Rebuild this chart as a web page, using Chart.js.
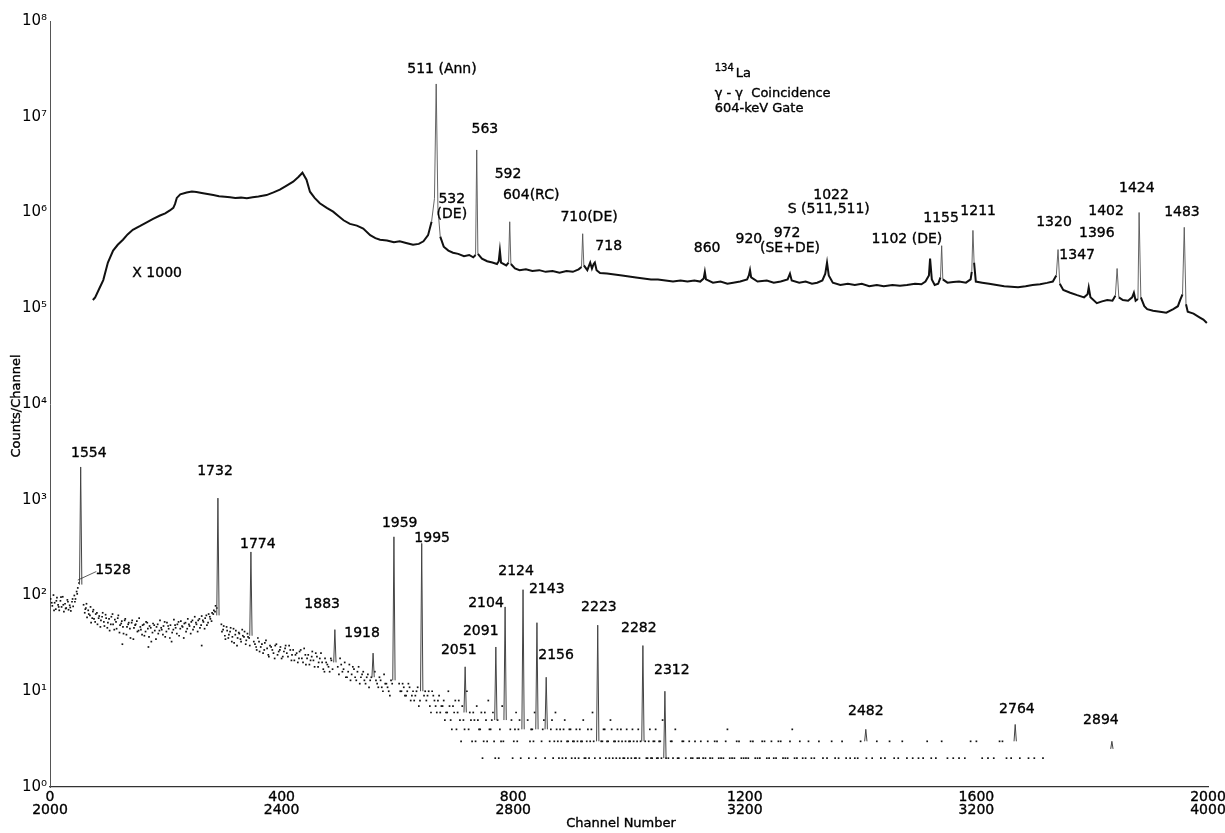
<!DOCTYPE html>
<html>
<head>
<meta charset="utf-8">
<title>134La gamma-gamma coincidence, 604-keV gate</title>
<script src="https://cdn.jsdelivr.net/npm/chart.js@4/dist/chart.umd.min.js"></script>
<style>
  html, body { margin: 0; padding: 0; background: #fff; }
  canvas { display: block; }
</style>
</head>
<body>
<canvas id="spectrum" width="1225" height="833"></canvas>
<script>
// ---- Upper spectrum, channels 0-2000, counts shown x1000: [channel, counts] ----
const upperSpectrum = [
  [74, 1.22e5], [78, 1.3e5], [85, 1.6e5], [92, 1.97e5], [100, 3.0e5], [109, 4.0e5], [117, 4.6e5], [126, 5.2e5],
  [134, 5.9e5], [143, 6.6e5], [155, 7.2e5], [167, 7.9e5], [178, 8.6e5], [190, 9.3e5], [199, 9.8e5], [207, 1.05e6],
  [213, 1.12e6], [216, 1.23e6], [219, 1.42e6], [225, 1.55e6], [236, 1.62e6], [245, 1.66e6], [253, 1.64e6], [262, 1.6e6],
  [272, 1.56e6], [282, 1.52e6], [292, 1.48e6], [302, 1.46e6], [311, 1.44e6], [320, 1.42e6], [330, 1.43e6], [340, 1.41e6],
  [350, 1.44e6], [360, 1.47e6], [374, 1.52e6], [386, 1.62e6], [397, 1.73e6], [408, 1.9e6], [420, 2.1e6], [429, 2.35e6],
  [436, 2.6e6], [443, 2.2e6], [449, 1.65e6], [457, 1.42e6], [466, 1.25e6], [478, 1.12e6], [489, 1.02e6], [498, 9.2e5],
  [507, 8.3e5], [518, 7.6e5], [530, 7.3e5], [541, 6.8e5], [553, 5.8e5], [562, 5.4e5], [570, 5.2e5], [582, 5.1e5],
  [594, 4.9e5], [604, 5.0e5], [615, 4.8e5], [627, 4.6e5], [637, 4.7e5], [645, 5.0e5], [653, 5.8e5], [659, 8.0e5],
  [664, 1.4e6], [667, 2.2e7], [670, 1.1e6], [674, 5.6e5], [680, 4.4e5], [688, 4.0e5], [696, 3.8e5], [705, 3.7e5],
  [715, 3.5e5], [724, 3.6e5], [731, 3.4e5], [735, 3.6e5], [737, 4.5e6], [739, 3.7e5], [746, 3.3e5], [755, 3.1e5],
  [764, 3.0e5], [772, 2.9e5], [775, 3.1e5], [777, 4.0e5], [779, 3.0e5], [788, 2.8e5], [792, 3.0e5], [794, 8.0e5],
  [796, 2.9e5], [803, 2.6e5], [811, 2.5e5], [822, 2.55e5], [833, 2.45e5], [845, 2.5e5], [856, 2.4e5], [868, 2.45e5],
  [880, 2.35e5], [892, 2.45e5], [903, 2.4e5], [913, 2.55e5], [918, 2.7e5], [920, 6.0e5], [922, 2.8e5], [928, 2.5e5],
  [933, 3.0e5], [936, 2.6e5], [939, 2.9e5], [941, 3.0e5], [944, 2.5e5], [950, 2.33e5], [962, 2.3e5], [975, 2.25e5],
  [988, 2.2e5], [1000, 2.15e5], [1012, 2.1e5], [1025, 2.05e5], [1038, 2.0e5], [1050, 2.0e5], [1063, 1.95e5], [1076, 1.9e5],
  [1089, 1.95e5], [1101, 1.9e5], [1113, 1.95e5], [1123, 1.9e5], [1129, 2.05e5], [1131, 2.4e5], [1133, 2.0e5], [1145, 1.85e5],
  [1158, 1.9e5], [1170, 1.8e5], [1180, 1.85e5], [1192, 1.9e5], [1204, 2.0e5], [1207, 2.2e5], [1209, 2.5e5], [1211, 2.1e5],
  [1222, 1.9e5], [1238, 1.95e5], [1250, 1.85e5], [1262, 1.9e5], [1274, 2.0e5], [1278, 2.3e5], [1281, 1.95e5], [1294, 1.85e5],
  [1305, 1.9e5], [1316, 1.8e5], [1325, 1.85e5], [1334, 1.95e5], [1339, 2.3e5], [1342, 3.0e5], [1345, 2.2e5], [1352, 1.85e5],
  [1365, 1.75e5], [1378, 1.8e5], [1390, 1.75e5], [1402, 1.8e5], [1415, 1.7e5], [1428, 1.75e5], [1440, 1.7e5], [1455, 1.75e5],
  [1468, 1.72e5], [1480, 1.75e5], [1494, 1.8e5], [1505, 1.78e5], [1512, 1.9e5], [1518, 2.2e5], [1520, 3.3e5], [1523, 2.0e5],
  [1528, 1.75e5], [1534, 1.8e5], [1538, 2.1e5], [1540, 4.5e5], [1542, 2.0e5], [1550, 1.85e5], [1560, 1.88e5], [1570, 1.9e5],
  [1582, 1.85e5], [1590, 2.0e5], [1592, 2.4e5], [1594, 6.5e5], [1596, 3.0e5], [1599, 1.9e5], [1610, 1.85e5], [1622, 1.8e5],
  [1635, 1.75e5], [1648, 1.7e5], [1660, 1.68e5], [1672, 1.66e5], [1685, 1.7e5], [1697, 1.75e5], [1710, 1.78e5], [1722, 1.84e5],
  [1732, 1.9e5], [1738, 2.2e5], [1741, 4.1e5], [1744, 1.8e5], [1750, 1.55e5], [1762, 1.45e5], [1774, 1.37e5], [1786, 1.3e5],
  [1792, 1.4e5], [1794, 1.65e5], [1797, 1.3e5], [1808, 1.13e5], [1817, 1.18e5], [1826, 1.22e5], [1835, 1.2e5], [1840, 1.35e5],
  [1843, 2.6e5], [1846, 1.3e5], [1853, 1.22e5], [1862, 1.2e5], [1869, 1.3e5], [1872, 1.45e5], [1875, 1.2e5], [1879, 1.25e5],
  [1881, 1.0e6], [1884, 1.3e5], [1890, 1.05e5], [1895, 9.8e4], [1905, 9.4e4], [1917, 9.2e4], [1928, 9.0e4], [1940, 9.8e4],
  [1948, 1.05e5], [1952, 1.22e5], [1956, 1.4e5], [1959, 7.0e5], [1962, 1.1e5], [1965, 9.2e4], [1975, 8.8e4], [1986, 8.0e4],
  [1992, 7.6e4], [1998, 7.0e4]
];

// ---- Lower spectrum, channels 2000-4000: photopeaks ----
const lowerPeakChannels = [53, 290, 347, 492, 558, 594, 642, 717, 770, 786, 817, 841, 857, 946, 1024, 1062, 1409, 1667, 1834];
const lowerPeakTops     = [2200, 1040, 285, 44, 25, 410, 350, 18, 29, 76, 115, 52, 14, 49, 30, 10, 4, 4.5, 3];
const lowerPeakBases    = [130, 62, 38, 20, 14, 13, 10, 6, 5, 5, 4, 4, 4, 3, 3, 2, 3, 3, 2.5];

// ---- Lower spectrum: background counts per channel, [channel, counts] ----
const lowerBackground = [
  [1, 92], [3, 84], [4, 78], [6, 101], [7, 70], [8, 84], [10, 72], [11, 88], [12, 95], [14, 80], [15, 76], [16, 70],
  [18, 88], [19, 96], [20, 76], [22, 97], [23, 80], [24, 68], [26, 82], [27, 73], [28, 74], [30, 90], [31, 86], [32, 71],
  [34, 79], [35, 75], [36, 69], [38, 86], [39, 92], [40, 77], [42, 100], [43, 86], [44, 92], [46, 110], [47, 104], [48, 120], [50, 135],
  [58, 80], [60, 66], [61, 72], [62, 74], [63, 82], [64, 59], [66, 70], [67, 64], [69, 62], [70, 76], [71, 52], [73, 58],
  [74, 68], [75, 71], [76, 57], [78, 53], [79, 64], [81, 66], [82, 50], [84, 58], [85, 61], [87, 47], [88, 55], [90, 60],
  [91, 66], [93, 53], [94, 48], [96, 63], [97, 58], [99, 46], [100, 52], [102, 57], [103, 43], [105, 50], [106, 60], [108, 64],
  [109, 50], [111, 44], [112, 56], [114, 53], [115, 45], [117, 58], [118, 62], [120, 41], [121, 49], [123, 51], [124, 54], [125, 31],
  [126, 47], [127, 40], [129, 55], [130, 57], [132, 39], [133, 47], [135, 50], [136, 52], [138, 45], [139, 36], [141, 52], [142, 55],
  [144, 35], [145, 46], [147, 49], [148, 50], [150, 54], [151, 42], [153, 43], [154, 58], [156, 47], [157, 44], [159, 39], [160, 49],
  [162, 50], [163, 38], [165, 42], [166, 53], [168, 52], [169, 45], [170, 29], [171, 37], [172, 48], [174, 46], [175, 33], [177, 41],
  [178, 51], [180, 49], [181, 43], [183, 35], [184, 47], [186, 50], [187, 40], [189, 43], [190, 55], [192, 46], [193, 44], [195, 39],
  [196, 48], [198, 53], [199, 37], [201, 42], [202, 52], [204, 48], [205, 45], [207, 36], [208, 49], [210, 33], [211, 41], [213, 44],
  [214, 56], [216, 49], [217, 46], [219, 40], [220, 50], [222, 53], [223, 38], [225, 45], [226, 54], [228, 48], [229, 47], [231, 36],
  [232, 51], [234, 52], [235, 42], [237, 45], [238, 57], [240, 50], [241, 48], [243, 40], [244, 53], [246, 55], [247, 44], [249, 47],
  [250, 60], [252, 52], [253, 50], [255, 42], [256, 55], [258, 57], [259, 46], [261, 49], [262, 61], [262, 30], [264, 55], [265, 53],
  [267, 45], [268, 58], [270, 62], [271, 49], [273, 52], [274, 64], [276, 60], [277, 57], [279, 54], [280, 66], [282, 64], [283, 70],
  [285, 68], [286, 78], [288, 74],
  [296, 50], [297, 42], [299, 44], [300, 48], [302, 38], [303, 35], [305, 47], [306, 43], [308, 36], [309, 39], [311, 42], [312, 46],
  [314, 33], [315, 37], [317, 45], [318, 32], [320, 39], [321, 43], [323, 30], [324, 36], [326, 41], [327, 40], [329, 35], [330, 33],
  [332, 44], [333, 38], [335, 37], [336, 42], [338, 31], [339, 34], [341, 40], [342, 37], [344, 36], [345, 30],
  [352, 33], [354, 31], [356, 29], [357, 27], [359, 36], [361, 33], [362, 26], [364, 29], [366, 31], [368, 25], [370, 27], [371, 32],
  [373, 34], [375, 28], [377, 24], [378, 23], [380, 30], [382, 29], [384, 27], [386, 25], [388, 22], [389, 30], [391, 31], [393, 24],
  [395, 26], [397, 27], [398, 29], [400, 22], [402, 23], [404, 26], [406, 28], [407, 30], [409, 25], [411, 23], [413, 30], [415, 27],
  [417, 21], [418, 24], [420, 27], [422, 21], [424, 24], [426, 25], [428, 20], [430, 22], [431, 26], [433, 27], [435, 22], [437, 20],
  [439, 28], [441, 24], [442, 19], [444, 22], [446, 24], [448, 19], [450, 21], [452, 23], [453, 26], [455, 21], [457, 18], [459, 25],
  [461, 23], [463, 18], [464, 20], [466, 22], [468, 25], [470, 20], [472, 17], [474, 16], [475, 22], [477, 20], [479, 19], [481, 18],
  [483, 16], [485, 22], [486, 21], [488, 17],
  [497, 18], [499, 15], [501, 22], [503, 19], [505, 16], [507, 17], [509, 20], [511, 14], [513, 14], [515, 16], [517, 19], [519, 13],
  [521, 15], [523, 18], [525, 17], [527, 14], [529, 13], [531, 16], [533, 18], [535, 12], [537, 14], [539, 15], [541, 16], [543, 13],
  [545, 12], [547, 14], [549, 15], [551, 11], [553, 13], [555, 14], [561, 16], [563, 13], [565, 12], [567, 11], [569, 14], [571, 13],
  [573, 11], [575, 10], [577, 15], [579, 12], [581, 12], [583, 11], [585, 10], [587, 9], [589, 13], [591, 12],
  [603, 12], [605, 10], [607, 10], [609, 12], [611, 11], [613, 9], [615, 9], [617, 10], [619, 12], [621, 11], [623, 8], [625, 9],
  [627, 10], [629, 8], [631, 9], [633, 10], [635, 11], [637, 7], [639, 8], [646, 9], [648, 10], [650, 8], [652, 9], [654, 10],
  [656, 7], [658, 6], [660, 10], [662, 9], [664, 8], [666, 7], [668, 6], [670, 8], [672, 9], [674, 6], [676, 7], [678, 7],
  [680, 8], [682, 5], [684, 6], [686, 6], [688, 10], [690, 7], [692, 5], [694, 4], [696, 7], [698, 6], [700, 8],
  [702, 4], [704, 6], [706, 8], [708, 5], [710, 3], [712, 7], [714, 5], [716, 4], [720, 10], [723, 4], [725, 6], [727, 5],
  [729, 3], [731, 6], [733, 5], [735, 3], [737, 7], [739, 5], [741, 4], [743, 4], [745, 6], [747, 2], [749, 3], [751, 6],
  [753, 5], [755, 3], [757, 8], [759, 4], [761, 4], [763, 5], [765, 6], [767, 3], [769, 2], [773, 5], [775, 2], [777, 4],
  [779, 3], [781, 7], [783, 3], [795, 4], [797, 5], [799, 2], [801, 3], [803, 4], [805, 6], [807, 3], [809, 4], [811, 5],
  [813, 2], [825, 5], [827, 2], [829, 3], [831, 4], [833, 4], [835, 3], [837, 6], [839, 2], [849, 3], [851, 4], [853, 5],
  [855, 2], [863, 3], [865, 4], [867, 5], [869, 2], [871, 3], [873, 6], [875, 4], [877, 3], [879, 2], [881, 4], [883, 3],
  [885, 2], [887, 4], [889, 5], [891, 2], [893, 3], [895, 3], [897, 4], [899, 4], [901, 2], [903, 3], [905, 3], [907, 2],
  [909, 4], [911, 3], [913, 2], [915, 4], [917, 3], [919, 3], [921, 5], [923, 2], [925, 2], [927, 3], [929, 4], [931, 2],
  [933, 3], [935, 4], [937, 6], [939, 3], [941, 2], [950, 2], [952, 3], [954, 3], [956, 4], [958, 4], [960, 2], [962, 3],
  [964, 3], [966, 2], [968, 5], [970, 4], [972, 2], [974, 3], [976, 3], [978, 2], [980, 4], [982, 3], [984, 2], [986, 4],
  [988, 3], [990, 2], [992, 2], [994, 3], [996, 4], [998, 2], [1000, 3], [1002, 3], [1004, 2], [1006, 4], [1008, 3], [1010, 2],
  [1012, 2], [1014, 3], [1016, 4], [1018, 2], [1020, 3], [1028, 3], [1030, 2], [1032, 2], [1034, 3], [1036, 4], [1038, 2], [1040, 2],
  [1042, 3], [1044, 3], [1046, 4], [1048, 2], [1050, 2], [1052, 3], [1054, 3], [1056, 2], [1058, 5], [1064, 2], [1068, 2], [1072, 3],
  [1074, 3], [1076, 2], [1080, 4], [1084, 2], [1086, 2], [1092, 3], [1094, 3], [1098, 2],
  [1104, 3], [1107, 2], [1110, 2], [1114, 3], [1118, 2], [1121, 2], [1124, 3], [1128, 2], [1132, 2], [1136, 3], [1140, 2], [1144, 2],
  [1148, 3], [1152, 3], [1155, 2], [1159, 2], [1163, 2], [1167, 3], [1170, 4], [1174, 2], [1178, 2], [1182, 2], [1186, 3], [1190, 3],
  [1194, 2], [1198, 2], [1202, 2], [1206, 2], [1210, 3], [1214, 3], [1218, 2], [1222, 2], [1226, 2], [1230, 3], [1234, 3], [1238, 2],
  [1242, 2], [1246, 3], [1250, 2], [1254, 2], [1258, 3], [1262, 3], [1266, 2], [1270, 2], [1274, 2], [1278, 3], [1282, 4], [1286, 2],
  [1290, 2], [1295, 3], [1300, 2], [1305, 2], [1310, 3], [1315, 2], [1320, 2], [1328, 3], [1335, 2], [1342, 2], [1350, 3], [1356, 2],
  [1362, 2], [1368, 3], [1375, 2], [1382, 2], [1390, 2], [1395, 2], [1400, 3], [1410, 2], [1420, 2], [1428, 3], [1435, 2], [1442, 2],
  [1450, 3], [1458, 2], [1465, 2], [1472, 3], [1480, 2], [1490, 2], [1500, 2], [1508, 2], [1515, 3], [1522, 2], [1530, 2], [1540, 3],
  [1550, 2], [1560, 2], [1570, 2], [1580, 2], [1590, 3], [1600, 3], [1610, 2], [1620, 2], [1630, 2], [1640, 3], [1645, 3], [1652, 2],
  [1660, 2], [1675, 2], [1690, 2], [1700, 2], [1715, 2]
];

// ---- Peak labels (keV), anchored in data coordinates ----
const upperLabelTexts = ['511 (Ann)', '563', '592', '604(RC)', '532', '(DE)', '710(DE)', '718', '860', '920', '972', '(SE+DE)',
  '1022', 'S (511,511)', '1102 (DE)', '1155', '1211', '1320', '1347', '1396', '1402', '1424', '1483', 'X 1000'];
const upperLabelChannels = [677, 751, 791, 831, 694, 694, 931, 965, 1135, 1207, 1273, 1278,
  1349, 1345, 1480, 1539, 1603, 1734, 1774, 1808, 1824, 1877, 1955, 185];
const upperLabelCounts = [3.1e7, 7.3e6, 2.5e6, 1.5e6, 1.37e6, 9.5e5, 8.9e5, 4.4e5, 4.2e5, 5.2e5, 6.1e5, 4.2e5,
  1.5e6, 1.07e6, 5.2e5, 8.6e5, 1.03e6, 7.95e5, 3.6e5, 6.1e5, 1.03e6, 1.8e6, 1.0e6, 2.3e5];

const lowerLabelTexts = ['1554', '1528', '1732', '1774', '1883', '1918', '1959', '1995', '2051', '2091',
  '2104', '2124', '2143', '2156', '2223', '2282', '2312', '2482', '2764', '2894'];
const lowerLabelChannels = [67, 109, 285, 359, 470, 539, 604, 660, 706, 744,
  753, 805, 858, 874, 948, 1017, 1074, 1409, 1670, 1815];
const lowerLabelCounts = [3080, 185, 1995, 345, 81.5, 40.6, 572, 398, 27, 42.6,
  83.5, 180, 117, 23.9, 75.8, 45.8, 16.7, 6.2, 6.5, 5.0];

// leader from the 1528 shoulder to its label: [channel, counts]
const leader1528 = [[48, 145], [80, 178]];

// ---- Axis ticks ----
const xTickValues = [0, 400, 800, 1200, 1600, 2000];
const xTopTickLabels = ['0', '400', '800', '1200', '1600', '2000'];
const xBottomTickLabels = ['2000', '2400', '2800', '3200', '3200', '4000'];
const yTickValues = [1, 10, 100, 1e3, 1e4, 1e5, 1e6, 1e7, 1e8];
const yTickLabels = ['10⁰', '10¹', '10²', '10³', '10⁴', '10⁵', '10⁶', '10⁷', '10⁸'];

// ---- Heading block: left channel and the counts level of each line ----
const headingChannel = 1148;
const headingCounts = [3.0e7, 1.73e7, 1.23e7];

const FONT = '"DejaVu Sans", "Liberation Sans", sans-serif';
Chart.defaults.font.family = FONT;
Chart.defaults.color = '#000';

const upperData = upperSpectrum.map(([x, y]) => ({ x, y }));
const lowerPeakData = [];
lowerPeakChannels.forEach((ch, i) => {
  lowerPeakData.push({ x: ch - 2, y: lowerPeakBases[i] });
  lowerPeakData.push({ x: ch, y: lowerPeakTops[i] });
  lowerPeakData.push({ x: ch + 2, y: lowerPeakBases[i] });
  lowerPeakData.push({ x: ch + 2, y: null });
});
const lowerDotData = lowerBackground.map(([x, y]) => ({ x, y }));

const steep = ctx => Math.abs(Math.log10(ctx.p1.parsed.y / ctx.p0.parsed.y)) > 0.22;

// text with a hairline stroke so the lettering reads a little heavier
function ink(ctx, text, px, py) {
  ctx.strokeText(text, px, py);
  ctx.fillText(text, px, py);
}

const annotations = {
  id: 'annotations',
  afterDatasetsDraw(chart) {
    const { ctx, scales: { x, y } } = chart;
    ctx.save();
    ctx.fillStyle = '#000';
    ctx.strokeStyle = '#000';
    ctx.lineWidth = 0.35;
    ctx.textAlign = 'center';
    ctx.textBaseline = 'middle';
    ctx.font = '14px ' + FONT;
    upperLabelTexts.forEach((t, i) => {
      ink(ctx, t, x.getPixelForValue(upperLabelChannels[i]), y.getPixelForValue(upperLabelCounts[i]));
    });
    lowerLabelTexts.forEach((t, i) => {
      ink(ctx, t, x.getPixelForValue(lowerLabelChannels[i]), y.getPixelForValue(lowerLabelCounts[i]));
    });

    // two-row channel tick labels
    xTickValues.forEach((v, i) => {
      const px = x.getPixelForValue(v);
      ink(ctx, xTopTickLabels[i], px, y.bottom + 10);
      ink(ctx, xBottomTickLabels[i], px, y.bottom + 23);
    });

    // heading: 134La, gamma-gamma coincidence, gate
    const hx = x.getPixelForValue(headingChannel);
    ctx.textAlign = 'left';
    const y0 = y.getPixelForValue(headingCounts[0]);
    ctx.font = '10px ' + FONT;
    ink(ctx, '134', hx, y0 - 3);
    const w = ctx.measureText('134').width;
    ctx.font = '13px ' + FONT;
    ink(ctx, 'La', hx + w + 2, y0 + 3);
    ctx.font = '13px ' + FONT;
    ink(ctx, 'γ - γ  Coincidence', hx, y.getPixelForValue(headingCounts[1]));
    ink(ctx, '604-keV Gate', hx, y.getPixelForValue(headingCounts[2]));

    // axis titles
    ctx.font = '13px ' + FONT;
    ctx.textAlign = 'center';
    ink(ctx, 'Channel Number', x.getPixelForValue(1000) - 8, chart.height - 9);
    ctx.save();
    ctx.translate(17, (y.top + y.bottom) / 2 + 2);
    ctx.rotate(-Math.PI / 2);
    ink(ctx, 'Counts/Channel', 0, 0);
    ctx.restore();

    // leader line for 1528
    ctx.strokeStyle = '#333';
    ctx.lineWidth = 0.8;
    ctx.beginPath();
    ctx.moveTo(x.getPixelForValue(leader1528[0][0]), y.getPixelForValue(leader1528[0][1]));
    ctx.lineTo(x.getPixelForValue(leader1528[1][0]), y.getPixelForValue(leader1528[1][1]));
    ctx.stroke();
    ctx.restore();
  }
};

new Chart(document.getElementById('spectrum'), {
  type: 'line',
  data: {
    datasets: [
      {
        label: 'x1000',
        data: upperData,
        borderColor: '#111',
        borderWidth: 2,
        pointRadius: 0,
        tension: 0,
        segment: {
          borderWidth: ctx => steep(ctx) ? 0.9 : 2,
          borderColor: ctx => steep(ctx) ? '#555' : '#111'
        }
      },
      {
        label: 'peaks',
        data: lowerPeakData,
        borderColor: '#444',
        borderWidth: 1,
        pointRadius: 0,
        spanGaps: false,
        tension: 0
      },
      {
        label: 'background',
        data: lowerDotData,
        showLine: false,
        pointRadius: 1.2,
        pointBackgroundColor: '#111',
        pointBorderWidth: 0,
        pointStyle: 'rect'
      }
    ]
  },
  options: {
    responsive: false,
    animation: false,
    devicePixelRatio: 1,
    layout: { padding: { top: 21, right: 17, left: 0, bottom: 0 } },
    plugins: { legend: { display: false }, tooltip: { enabled: false }, title: { display: false } },
    scales: {
      x: {
        type: 'linear',
        min: 0,
        max: 2000,
        afterBuildTicks: s => { s.ticks = xTickValues.map(v => ({ value: v })); },
        afterFit: s => { s.height = 46; },
        ticks: { display: false },
        grid: { display: false, drawTicks: false },
        border: { display: true, color: '#333', width: 1.3 }
      },
      y: {
        type: 'logarithmic',
        min: 1,
        max: 1e8,
        afterBuildTicks: s => { s.ticks = yTickValues.map(v => ({ value: v })); },
        afterFit: s => { s.width = 50; },
        ticks: {
          padding: 3,
          color: '#000',
          font: { size: 15 },
          callback: v => yTickLabels[yTickValues.indexOf(v)]
        },
        grid: { display: false, drawTicks: false },
        border: { display: true, color: '#555', width: 1 }
      }
    }
  },
  plugins: [annotations]
});
</script>
</body>
</html>
